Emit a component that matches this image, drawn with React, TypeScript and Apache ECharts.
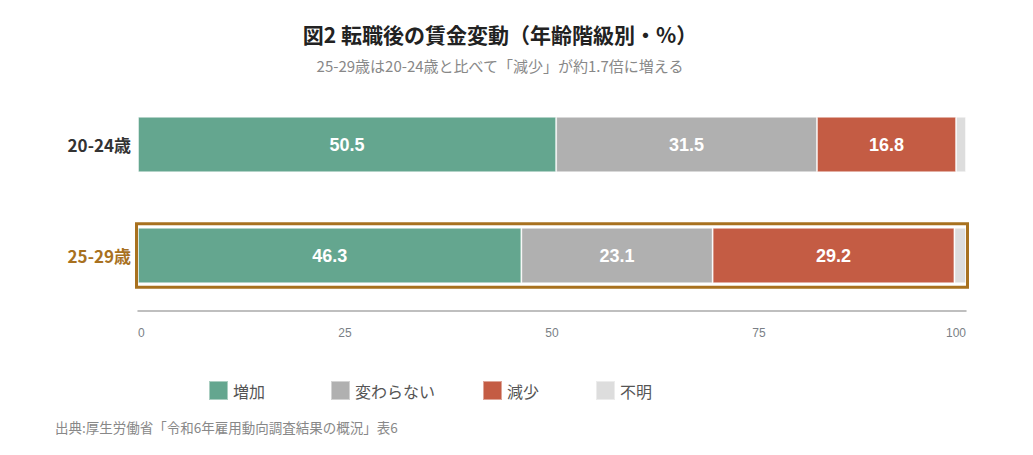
import React, { useEffect, useRef } from 'react';
import * as echarts from 'echarts';

const categories = ['20-24歳', '25-29歳'];
const seriesNames = ['増加', '変わらない', '減少', '不明'];
const increase = [50.5, 46.3];
const unchanged = [31.5, 23.1];
const decrease = [16.8, 29.2];
const unknown = [1.2, 1.4];
const xTicks = [0, 25, 50, 75, 100];

const colors = ['#64a68f', '#b0b0b0', '#c45c44', '#dddddd'];
const highlight = '#a8711f';
const jpFont = "'Noto Sans CJK JP', 'Noto Sans', sans-serif";
const numFont = "'Liberation Sans', Arial, sans-serif";

const App: React.FC = () => {
  const chartRef = useRef<HTMLDivElement>(null);

  useEffect(() => {
    document.body.style.margin = '0';
    if (!chartRef.current) return;
    const chart = echarts.init(chartRef.current, undefined, { renderer: 'svg' });

    const values = [increase, unchanged, decrease, unknown];
    const legendLeft = [208, 330, 482, 595];

    chart.setOption({
      animation: false,
      textStyle: { fontFamily: jpFont },
      title: {
        text: '図2 転職後の賃金変動（年齢階級別・%）',
        subtext: '25-29歳は20-24歳と比べて「減少」が約1.7倍に増える',
        left: 495,
        textAlign: 'center',
        top: 18,
        itemGap: 14,
        textStyle: { fontSize: 21, fontWeight: 'bold', color: '#222', fontFamily: jpFont },
        subtextStyle: { fontSize: 15, color: '#888', fontFamily: jpFont },
      },
      legend: seriesNames.map((name, i) => ({
        data: [name],
        left: legendLeft[i],
        top: 380,
        padding: 0,
        icon: 'rect',
        itemWidth: 19,
        itemHeight: 19,
        itemGap: 10,
        selectedMode: false,
        textStyle: { fontSize: 16, color: '#555', fontFamily: jpFont },
      })),
      grid: { left: 138, right: 67, top: 89, bottom: 144 },
      xAxis: {
        type: 'value',
        min: xTicks[0],
        max: xTicks[xTicks.length - 1],
        interval: 25,
        axisLine: { show: true, lineStyle: { color: '#aaaaaa', width: 1.5 } },
        axisTick: { show: false },
        splitLine: { show: false },
        axisLabel: {
          color: '#7a7f86',
          fontSize: 12,
          margin: 16,
          fontFamily: numFont,
          alignMinLabel: 'left',
          alignMaxLabel: 'right',
        },
      },
      yAxis: {
        type: 'category',
        data: categories,
        inverse: true,
        axisLine: { show: false },
        axisTick: { show: false },
        axisLabel: {
          margin: 7,
          fontSize: 17,
          fontWeight: 'bold',
          formatter: (v: string) => (v === '25-29歳' ? `{hl|${v}}` : `{n|${v}}`),
          rich: {
            n: { fontSize: 17, fontWeight: 'bold', color: '#333', fontFamily: jpFont },
            hl: { fontSize: 17, fontWeight: 'bold', color: highlight, fontFamily: jpFont },
          },
        },
      },
      series: seriesNames.map((name, i) => ({
        name,
        type: 'bar',
        stack: 'total',
        barCategoryGap: '50%',
        data: values[i],
        itemStyle: {
          color: colors[i],
          borderColor: 'rgba(255,255,255,0.45)',
          borderWidth: 1,
        },
        label: {
          show: i < 3,
          position: 'inside',
          color: '#fff',
          fontSize: 18,
          fontWeight: 'bold',
          fontFamily: numFont,
        },
        emphasis: { disabled: true },
      })),
    });

    // highlight box around the 25-29 row, positioned from the axes
    const yc = chart.convertToPixel({ yAxisIndex: 0 }, categories[1]) as number;
    const x0 = chart.convertToPixel({ xAxisIndex: 0 }, xTicks[0]) as number;
    const x1 = chart.convertToPixel({ xAxisIndex: 0 }, xTicks[xTicks.length - 1]) as number;
    const bandH = (455 - 89 - 144) / categories.length;
    const half = bandH * 0.25 + 4;

    chart.setOption({
      graphic: [
        {
          type: 'rect',
          shape: { x: x0 - 1.5, y: yc - half, width: x1 - x0 + 3, height: half * 2 },
          style: { fill: 'none', stroke: highlight, lineWidth: 3 },
          z: 10,
        },
        {
          type: 'text',
          left: 55,
          top: 420,
          style: {
            text: '出典:厚生労働省「令和6年雇用動向調査結果の概況」表6',
            fontSize: 13.5,
            fill: '#888',
            fontFamily: jpFont,
          },
        },
      ],
    });

    const handleResize = () => chart.resize();
    window.addEventListener('resize', handleResize);
    return () => {
      window.removeEventListener('resize', handleResize);
      chart.dispose();
    };
  }, []);

  return <div ref={chartRef} style={{ width: '1033px', height: '455px' }}></div>;
};

export default App;
